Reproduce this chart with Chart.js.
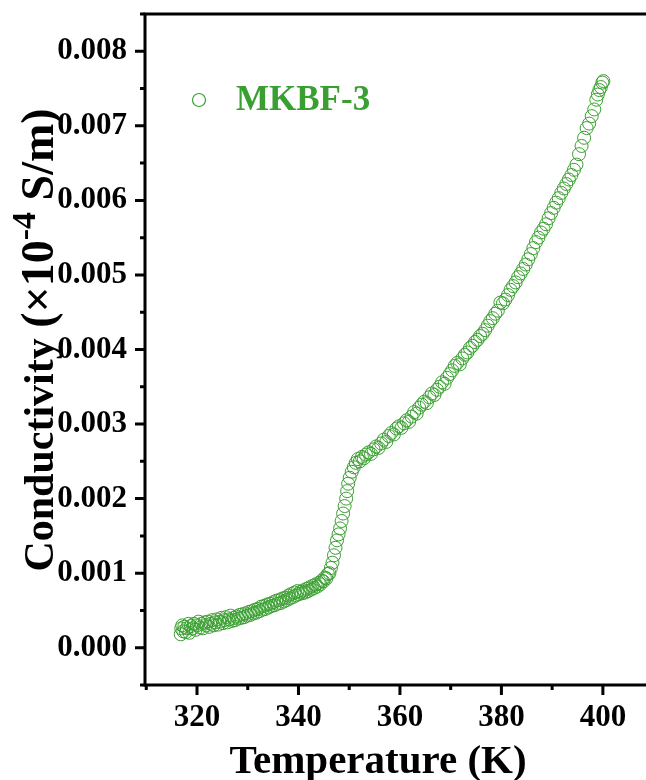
<!DOCTYPE html>
<html>
<head>
<meta charset="utf-8">
<script src="https://cdn.jsdelivr.net/npm/chart.js@4.4.1/dist/chart.umd.min.js"></script>
<style>
  html, body { margin: 0; padding: 0; background: #fff; overflow: hidden; }
  #wrap { width: 646px; height: 780px; position: relative; }
</style>
</head>
<body>
<div id="wrap"><canvas id="c"></canvas></div>
<script>
// Temperature (K) and conductivity
const temperature = [
  316.8, 316.9, 317.1, 317.3, 317.5, 317.8, 318.0, 318.3, 318.5, 318.8,
  319.1, 319.4, 319.7, 320.0, 320.3, 320.6, 320.9, 321.2, 321.5, 321.8,
  322.1, 322.4, 322.7, 323.0, 323.3, 323.6, 323.9, 324.2, 324.5, 324.8,
  325.1, 325.4, 325.7, 326.0, 326.3, 326.6, 326.9, 327.2, 327.5, 327.8,
  328.1, 328.4, 328.7, 329.0, 329.3, 329.6, 329.9, 330.2, 330.5, 330.8,
  331.1, 331.4, 331.7, 332.0, 332.3, 332.6, 332.9, 333.2, 333.5, 333.8,
  334.1, 334.4, 334.7, 335.0, 335.3, 335.6, 335.9, 336.2, 336.5, 336.8,
  337.1, 337.4, 337.7, 338.0, 338.3, 338.6, 338.9, 339.2, 339.5, 339.8,
  340.1, 340.4, 340.7, 341.0, 341.3, 341.6, 341.9, 342.2, 342.5, 342.8,
  343.1, 343.4, 343.7, 344.0, 344.3, 344.6, 344.9, 345.2, 345.5, 345.8,
  346.1, 346.4, 346.7, 347.0, 347.3, 347.6, 347.9, 348.2, 348.5, 348.8,
  349.1, 349.4, 349.6, 349.8, 350.1, 350.5, 350.9, 351.3, 351.7, 352.1,
  352.5, 352.9, 353.3, 353.8, 354.3, 354.8, 355.3, 355.8, 356.3, 356.8,
  357.3, 357.8, 358.3, 358.8, 359.3, 359.8, 360.3, 360.8, 361.3, 361.8,
  362.3, 362.8, 363.3, 363.8, 364.3, 364.8, 365.3, 365.8, 366.3, 366.8,
  367.3, 367.8, 368.3, 368.8, 369.3, 369.8, 370.3, 370.8, 371.3, 371.8,
  372.3, 372.8, 373.3, 373.8, 374.3, 374.8, 375.3, 375.8, 376.3, 376.8,
  377.3, 377.8, 378.3, 378.8, 379.3, 379.8, 380.3, 380.8, 381.3, 381.8,
  382.3, 382.8, 383.3, 383.8, 384.3, 384.8, 385.3, 385.8, 386.3, 386.8,
  387.3, 387.8, 388.3, 388.8, 389.3, 389.8, 390.3, 390.8, 391.3, 391.8,
  392.3, 392.8, 393.3, 393.8, 394.3, 394.8, 395.3, 395.8, 396.3, 396.8,
  397.3, 397.8, 398.3, 398.7, 399.0, 399.3, 399.6, 399.9, 400.1
];
const conductivity = [
  0.00018, 0.00026, 0.00030, 0.00022, 0.00028, 0.00021, 0.00026, 0.00032, 0.00020, 0.00029,
  0.00026, 0.00032, 0.00024, 0.00030, 0.00035, 0.00027, 0.00032, 0.00026, 0.00034, 0.00030,
  0.00035, 0.00028, 0.00032, 0.00037, 0.00030, 0.00034, 0.00038, 0.00031, 0.00035, 0.00040,
  0.00033, 0.00037, 0.00041, 0.00034, 0.00038, 0.00043, 0.00036, 0.00040, 0.00037, 0.00042,
  0.00039, 0.00044, 0.00040, 0.00045, 0.00041, 0.00046, 0.00043, 0.00048, 0.00044, 0.00049,
  0.00046, 0.00051, 0.00047, 0.00052, 0.00049, 0.00055, 0.00051, 0.00056, 0.00052, 0.00058,
  0.00054, 0.00059, 0.00056, 0.00061, 0.00057, 0.00063, 0.00059, 0.00064, 0.00060, 0.00066,
  0.00062, 0.00067, 0.00064, 0.00070, 0.00066, 0.00072, 0.00068, 0.00074, 0.00070, 0.00076,
  0.00072, 0.00075, 0.00073, 0.00077, 0.00074, 0.00079, 0.00076, 0.00081, 0.00078, 0.00083,
  0.00080, 0.00085, 0.00082, 0.00087, 0.00085, 0.00090, 0.00089, 0.00094, 0.00093, 0.00099,
  0.00100, 0.00107, 0.00114, 0.00124, 0.00134, 0.00144, 0.00152, 0.00160, 0.00170, 0.00180,
  0.00190, 0.00200, 0.00210, 0.00220, 0.00228, 0.00236, 0.00242, 0.00248, 0.00253, 0.00250,
  0.00256, 0.00254, 0.00259, 0.00262, 0.00260, 0.00266, 0.00270, 0.00268, 0.00274, 0.00279,
  0.00276, 0.00284, 0.00288, 0.00286, 0.00294, 0.00297, 0.00295, 0.00301, 0.00305, 0.00303,
  0.00310, 0.00316, 0.00314, 0.00322, 0.00326, 0.00330, 0.00328, 0.00336, 0.00341, 0.00339,
  0.00346, 0.00350, 0.00356, 0.00354, 0.00362, 0.00367, 0.00372, 0.00378, 0.00382, 0.00380,
  0.00388, 0.00393, 0.00396, 0.00402, 0.00405, 0.00410, 0.00413, 0.00418, 0.00421, 0.00426,
  0.00432, 0.00438, 0.00442, 0.00448, 0.00452, 0.00463, 0.00462, 0.00467, 0.00473, 0.00480,
  0.00485, 0.00490, 0.00497, 0.00502, 0.00508, 0.00514, 0.00521, 0.00528, 0.00536, 0.00544,
  0.00550, 0.00557, 0.00562, 0.00568, 0.00576, 0.00583, 0.00590, 0.00597, 0.00603, 0.00610,
  0.00616, 0.00622, 0.00628, 0.00634, 0.00641, 0.00648, 0.00662, 0.00673, 0.00684, 0.00697,
  0.00703, 0.00713, 0.00722, 0.00735, 0.00742, 0.00748, 0.00752, 0.00758, 0.00760
];

const xMajorTicks = [320, 340, 360, 380, 400];
const xMinorTicks = [310, 330, 350, 370, 390];
const yMajorTicks = [0, 0.001, 0.002, 0.003, 0.004, 0.005, 0.006, 0.007, 0.008];
const yMinorTicks = [-0.0005, 0.0005, 0.0015, 0.0025, 0.0035, 0.0045, 0.0055, 0.0065, 0.0075, 0.0085];

const seriesName = 'MKBF-3';
const xTitle = 'Temperature (K)';
// pieces of the y title: [text, font size, baseline shift]
const yTitleParts = [['Conductivity ', 42, 0], ['(\u00d710', 46, 0], ['-4', 34, -18], [' S/m)', 46, 0]];

const GREEN = '#3a9f31';
const FONT = '"Liberation Serif", "Times New Roman", serif';

function noPad(s) {
  s.paddingTop = 0; s.paddingBottom = 0; s.paddingLeft = 0; s.paddingRight = 0;
}

// axis lines, top frame, outward ticks, titles and legend
const framePlugin = {
  id: 'frame',
  afterDraw(chart) {
    const ctx = chart.ctx;
    const a = chart.chartArea;
    const xs = chart.scales.x, ys = chart.scales.y;
    ctx.save();
    ctx.strokeStyle = '#000';
    ctx.lineWidth = 3;
    ctx.lineCap = 'butt';
    ctx.beginPath();
    ctx.moveTo(a.left, a.top);
    ctx.lineTo(a.right + 2, a.top);
    ctx.moveTo(a.left, a.top - 1.5);
    ctx.lineTo(a.left, a.bottom + 1.5);
    ctx.moveTo(a.left - 1.5, a.bottom);
    ctx.lineTo(a.right + 2, a.bottom);
    ctx.stroke();

    ctx.beginPath();
    xMajorTicks.forEach(v => { const p = xs.getPixelForValue(v); ctx.moveTo(p, a.bottom); ctx.lineTo(p, a.bottom + 10); });
    xMinorTicks.forEach(v => { const p = xs.getPixelForValue(v); ctx.moveTo(p, a.bottom); ctx.lineTo(p, a.bottom + 5); });
    yMajorTicks.forEach(v => { const p = ys.getPixelForValue(v); ctx.moveTo(a.left, p); ctx.lineTo(a.left - 10, p); });
    yMinorTicks.forEach(v => { const p = ys.getPixelForValue(v); ctx.moveTo(a.left, p); ctx.lineTo(a.left - 5, p); });
    ctx.stroke();

    // x title
    ctx.fillStyle = '#000';
    ctx.font = 'bold 41px ' + FONT;
    ctx.textAlign = 'center';
    ctx.textBaseline = 'alphabetic';
    ctx.fillText(xTitle, 378, 773);

    // y title with superscript
    ctx.save();
    ctx.translate(53, 340);
    ctx.rotate(-Math.PI / 2);
    ctx.textAlign = 'left';
    const widths = yTitleParts.map(p => { ctx.font = 'bold ' + p[1] + 'px ' + FONT; return ctx.measureText(p[0]).width; });
    let x0 = -widths.reduce((s, w) => s + w, 0) / 2;
    yTitleParts.forEach((p, i) => {
      ctx.font = 'bold ' + p[1] + 'px ' + FONT;
      ctx.fillText(p[0], x0, p[2]);
      x0 += widths[i];
    });
    ctx.restore();

    // legend
    ctx.strokeStyle = GREEN;
    ctx.lineWidth = 1.2;
    ctx.beginPath();
    ctx.arc(199, 100, 6.5, 0, Math.PI * 2);
    ctx.stroke();
    ctx.fillStyle = GREEN;
    ctx.font = 'bold 35px ' + FONT;
    ctx.textAlign = 'left';
    ctx.textBaseline = 'middle';
    ctx.fillText(seriesName, 236, 101);
    ctx.restore();
  }
};

const canvas = document.getElementById('c');
canvas.width = 646; canvas.height = 780;

new Chart(canvas.getContext('2d'), {
  type: 'scatter',
  data: {
    datasets: [{
      label: seriesName,
      data: temperature.map((t, i) => ({ x: t, y: conductivity[i] })),
      pointStyle: 'circle',
      pointRadius: 6.5,
      pointBorderWidth: 1,
      pointBackgroundColor: 'rgba(0,0,0,0)',
      pointBorderColor: GREEN,
      showLine: false
    }]
  },
  options: {
    responsive: false,
    animation: false,
    layout: { autoPadding: false, padding: { top: 14, right: 0, left: 0, bottom: 0 } },
    plugins: { legend: { display: false }, tooltip: { enabled: false } },
    scales: {
      x: {
        type: 'linear',
        min: 309.75,
        max: 408.5,
        afterBuildTicks: s => { s.ticks = xMajorTicks.map(v => ({ value: v })); },
        afterFit: s => { s.height = 95; noPad(s); },
        grid: { display: false, drawTicks: false },
        border: { display: false },
        ticks: {
          padding: 14,
          color: '#000',
          font: { family: FONT, size: 31, weight: 'bold' },
          maxRotation: 0,
          callback: v => String(v)
        }
      },
      y: {
        type: 'linear',
        min: -0.0005,
        max: 0.0085,
        afterBuildTicks: s => { s.ticks = yMajorTicks.map(v => ({ value: v })); },
        afterFit: s => { s.width = 145; noPad(s); },
        grid: { display: false, drawTicks: false },
        border: { display: false },
        ticks: {
          padding: 18,
          color: '#000',
          font: { family: FONT, size: 31, weight: 'bold' },
          callback: v => v.toFixed(3)
        }
      }
    }
  },
  plugins: [framePlugin]
});
</script>
</body>
</html>
